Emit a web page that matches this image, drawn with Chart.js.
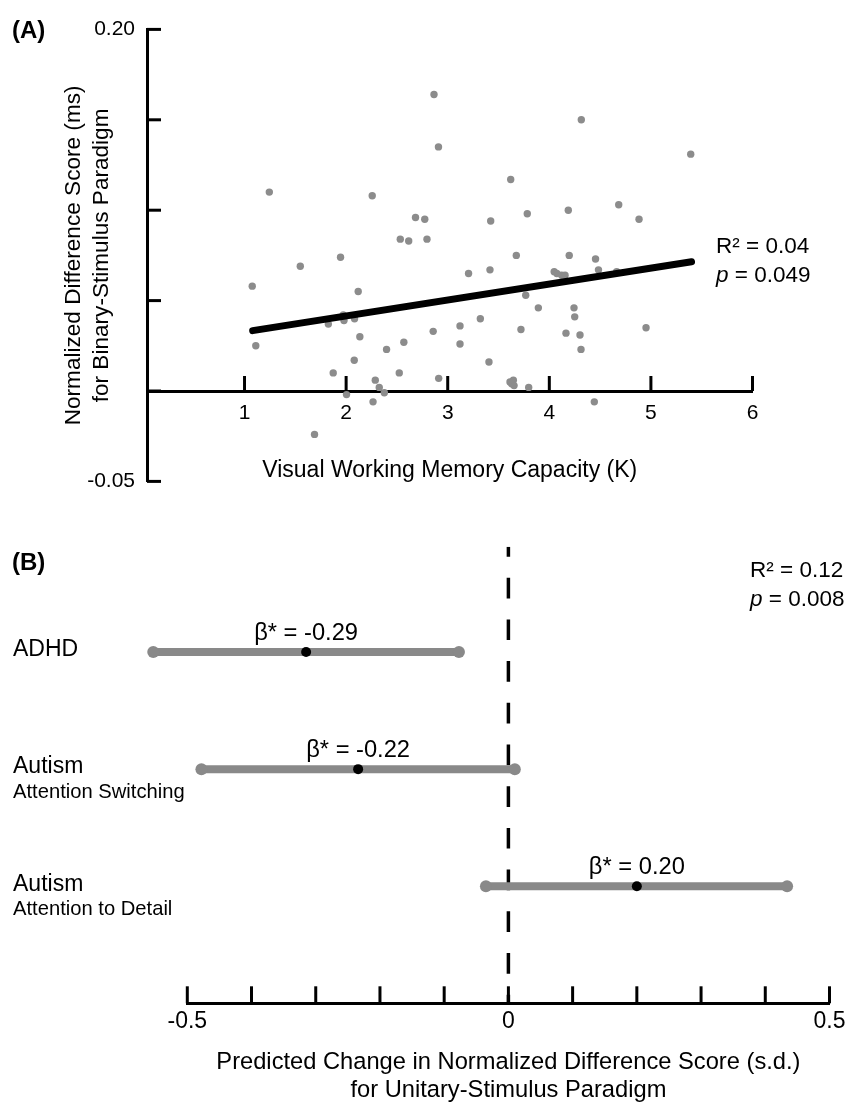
<!DOCTYPE html>
<html lang="en">
<head>
<meta charset="UTF-8">
<title>Visual working memory and difference scores</title>
<style>
  html, body { margin: 0; padding: 0; background: #fff; overflow: hidden; }
  canvas { position: absolute; left: 0; }
  #panelA { top: 0; }
  #panelB { top: 500px; }
</style>
</head>
<body>

<canvas id="panelA" width="846" height="510" role="img" aria-label="Scatter plot of normalized difference score against visual working memory capacity"></canvas>
<canvas id="panelB" width="856" height="604" role="img" aria-label="Standardized regression coefficients with confidence intervals"></canvas>

<script src="https://cdn.jsdelivr.net/npm/chart.js@4.4.1/dist/chart.umd.min.js"></script>
<script>
    // ---- panel A: scatter + regression line ----
    var capacityK = [2.865, 2.909, 4.315, 5.392, 1.244, 2.257, 3.620, 4.683, 2.683, 2.774,
                     3.423, 3.783, 4.187, 4.883, 2.533, 2.616, 2.796, 1.945, 3.675, 4.196,
                     4.455, 1.549, 3.205, 3.416, 4.048, 4.074, 4.122, 4.155, 4.484, 4.663,
                     1.076, 2.119, 3.768, 3.892, 4.243, 4.250, 3.321, 1.972, 1.979, 1.825,
                     2.083, 2.857, 3.121, 3.721, 4.164, 4.302, 4.952, 1.111, 2.135, 2.398,
                     2.568, 3.121, 4.312, 2.080, 3.406, 1.873, 2.523, 2.911, 2.287, 2.326,
                     2.376, 2.004, 2.265, 1.689, 3.613, 3.646, 3.630, 3.653, 3.797, 4.443];
    var diffScore = [0.164, 0.135, 0.150, 0.131, 0.110, 0.108, 0.117, 0.103, 0.096, 0.095,
                     0.094, 0.098, 0.100, 0.095, 0.084, 0.083, 0.084, 0.074, 0.075, 0.075,
                     0.073, 0.069, 0.065, 0.067, 0.066, 0.065, 0.064, 0.064, 0.067, 0.066,
                     0.058, 0.055, 0.053, 0.046, 0.046, 0.041, 0.040, 0.042, 0.039, 0.037,
                     0.040, 0.033, 0.036, 0.034, 0.032, 0.031, 0.035, 0.025, 0.030, 0.023,
                     0.027, 0.026, 0.023, 0.017, 0.016, 0.010, 0.010, 0.007, 0.006, 0.002,
                     -0.001, -0.002, -0.006, -0.024, 0.005, 0.006, 0.004, 0.003, 0.002, -0.006];
    var fitK = [1.08, 5.40];
    var fitScore = [0.0334, 0.0715];
    var xTicksA = [1, 2, 3, 4, 5, 6];
    var yTicksA = [-0.05, 0, 0.05, 0.10, 0.15, 0.20];
    var yLabelsA = ['-0.05', '', '', '', '', '0.20'];

    // ---- panel B: coefficients with intervals ----
    var groups = ['ADHD', 'Autism', 'Autism'];
    var subgroups = ['', 'Attention Switching', 'Attention to Detail'];
    var rows = [1, 2, 3];
    var ciLow = [-0.553, -0.478, -0.035];
    var ciHigh = [-0.077, 0.010, 0.434];
    var betaMid = [-0.315, -0.234, 0.200];
    var betaLabels = ['β* = -0.29', 'β* = -0.22', 'β* = 0.20'];
    var xTicksB = [-0.5, -0.4, -0.3, -0.2, -0.1, 0, 0.1, 0.2, 0.3, 0.4, 0.5];
    var xLabelsB = ['-0.5', '', '', '', '', '0', '', '', '', '', '0.5'];

    var FONT = '"Liberation Sans", Arial, Helvetica, sans-serif';
    var GREY = '#898989';
    Chart.defaults.font.family = FONT;
    Chart.defaults.color = '#000';
    Chart.defaults.animation = false;

    // tick marks point into the plot, so draw them ourselves from the scale ticks
    var innerTicks = {
        id: 'innerTicks',
        afterDraw: function(chart, args, opts) {
            var ctx = chart.ctx;
            ctx.save();
            ctx.strokeStyle = '#000';
            ctx.lineWidth = 3;
            Object.keys(opts.lengths || {}).forEach(function(id) {
                var s = chart.scales[id];
                var len = opts.lengths[id];
                s.ticks.forEach(function(t) {
                    var p = s.getPixelForValue(t.value);
                    ctx.beginPath();
                    if (s.isHorizontal()) {
                        var y0 = s.options.position === 'bottom' ? chart.chartArea.bottom : chart.scales.y.getPixelForValue(0);
                        ctx.moveTo(p, y0);
                        ctx.lineTo(p, y0 - len);
                    } else {
                        ctx.moveTo(chart.chartArea.left, p);
                        ctx.lineTo(chart.chartArea.left + len, p);
                    }
                    ctx.stroke();
                });
            });
            ctx.restore();
        }
    };

    // interval end caps (one end lies left of the axis, where chart.js skips points)
    var endCaps = {
        id: 'endCaps',
        afterDatasetsDraw: function(chart) {
            var ctx = chart.ctx;
            var xs = chart.scales.x, ys = chart.scales.y;
            ctx.save();
            ctx.fillStyle = GREY;
            for (var i = 0; i < rows.length; i++) {
                [ciLow[i], ciHigh[i]].forEach(function(v) {
                    ctx.beginPath();
                    ctx.arc(xs.getPixelForValue(v), ys.getPixelForValue(rows[i]), 6, 0, Math.PI * 2);
                    ctx.fill();
                });
            }
            ctx.fillStyle = '#000';
            for (var j = 0; j < rows.length; j++) {
                ctx.beginPath();
                ctx.arc(xs.getPixelForValue(betaMid[j]), ys.getPixelForValue(rows[j]), 5, 0, Math.PI * 2);
                ctx.fill();
            }
            ctx.restore();
        }
    };

    function statText(ctx, x, y, r2, p) {
        ctx.font = '22.5px ' + FONT;
        ctx.fillText(r2, x, y);
        ctx.font = 'italic 22.5px ' + FONT;
        ctx.fillText('p', x, y + 29);
        var w = ctx.measureText('p').width;
        ctx.font = '22.5px ' + FONT;
        ctx.fillText(' = ' + p, x + w, y + 29);
    }

    var notesA = {
        id: 'notesA',
        afterDraw: function(chart) {
            var ctx = chart.ctx;
            ctx.save();
            ctx.fillStyle = '#000';
            ctx.textBaseline = 'middle';
            ctx.textAlign = 'left';
            ctx.font = 'bold 24px ' + FONT;
            ctx.fillText('(A)', 12, 31);
            statText(ctx, 716, 247, 'R² = 0.04', '0.049');
            ctx.restore();
        }
    };

    var notesB = {
        id: 'notesB',
        afterDraw: function(chart) {
            var ctx = chart.ctx;
            var xs = chart.scales.x, ys = chart.scales.y;
            ctx.save();
            ctx.fillStyle = '#000';
            ctx.textBaseline = 'middle';
            ctx.textAlign = 'left';
            ctx.font = 'bold 24px ' + FONT;
            ctx.fillText('(B)', 12, 63);
            statText(ctx, 750, 71, 'R² = 0.12', '0.008');
            for (var i = 0; i < rows.length; i++) {
                var y = ys.getPixelForValue(rows[i]);
                ctx.textAlign = 'left';
                ctx.font = '23px ' + FONT;
                ctx.fillText(groups[i], 13, y - 2);
                if (subgroups[i]) {
                    ctx.font = '20.2px ' + FONT;
                    ctx.fillText(subgroups[i], 13, y + 23);
                }
                ctx.textAlign = 'center';
                ctx.font = '23.7px ' + FONT;
                ctx.fillText(betaLabels[i], xs.getPixelForValue(betaMid[i]), y - 19);
            }
            ctx.restore();
        }
    };

    var axisBorder = { display: true, color: '#000', width: 3 };

    // panel A
    new Chart(document.getElementById('panelA'), {
        type: 'scatter',
        data: {
            datasets: [
                {
                    type: 'line',
                    data: fitK.map(function(k, i) { return { x: k, y: fitScore[i] }; }),
                    borderColor: '#000',
                    borderWidth: 7,
                    borderCapStyle: 'round',
                    pointRadius: 0,
                    order: 0
                },
                {
                    data: capacityK.map(function(k, i) { return { x: k, y: diffScore[i] }; }),
                    backgroundColor: '#8c8c8c',
                    borderWidth: 0,
                    pointRadius: 3.7,
                    order: 1
                }
            ]
        },
        options: {
            responsive: false,
            layout: { padding: { left: 0, right: 93.5, top: 29.4, bottom: 28.6 } },
            plugins: {
                legend: { display: false },
                tooltip: { enabled: false },
                innerTicks: { lengths: { x: 15, y: 14 } }
            },
            scales: {
                x: {
                    type: 'linear',
                    min: 0.04,
                    max: 6,
                    position: { y: 0 },
                    afterBuildTicks: function(s) { s.ticks = xTicksA.map(function(v) { return { value: v }; }); },
                    afterFit: function(s) { s.height = 93; },
                    grid: { display: false, drawTicks: false },
                    border: axisBorder,
                    ticks: { font: { size: 21 }, padding: 10, autoSkip: false, maxRotation: 0 },
                    title: {
                        display: true,
                        text: 'Visual Working Memory Capacity (K)',
                        font: { size: 23, lineHeight: 1.2 },
                        padding: { top: 0, bottom: 0 }
                    }
                },
                y: {
                    type: 'linear',
                    min: -0.05,
                    max: 0.2,
                    position: 'left',
                    afterBuildTicks: function(s) { s.ticks = yTicksA.map(function(v) { return { value: v }; }); },
                    afterFit: function(s) { s.width = 147; },
                    grid: { display: false, drawTicks: false },
                    border: axisBorder,
                    ticks: {
                        font: { size: 21 },
                        padding: 12,
                        autoSkip: false,
                        callback: function(v, i) { return yLabelsA[i]; }
                    },
                    title: {
                        display: true,
                        text: ['Normalized Difference Score (ms)', 'for Binary-Stimulus Paradigm'],
                        font: { size: 22.6, lineHeight: 1.24 },
                        padding: { top: 60, bottom: 0 }
                    }
                }
            }
        },
        plugins: [innerTicks, notesA]
    });

    // panel B
    var datasetsB = [];
    for (var i = 0; i < rows.length; i++) {
        datasetsB.push({
            type: 'line',
            data: [{ x: ciLow[i], y: rows[i] }, { x: ciHigh[i], y: rows[i] }],
            borderColor: GREY,
            borderWidth: 8,
            pointRadius: 0,
            clip: false,
            order: 1
        });
    }
    datasetsB.push({
        type: 'line',
        data: [{ x: 0, y: 0.1 }, { x: 0, y: 4.0 }],
        borderColor: '#000',
        borderWidth: 3.5,
        borderDash: [20.7, 21],
        borderDashOffset: 10.7,
        pointRadius: 0,
        order: 2
    });

    new Chart(document.getElementById('panelB'), {
        type: 'scatter',
        data: { datasets: datasetsB },
        options: {
            responsive: false,
            layout: { padding: { left: 187.3, right: 26.5, top: 46.7, bottom: 0 } },
            plugins: {
                legend: { display: false },
                tooltip: { enabled: false },
                innerTicks: { lengths: { x: 17 } }
            },
            scales: {
                x: {
                    type: 'linear',
                    min: -0.5,
                    max: 0.5,
                    position: 'bottom',
                    afterBuildTicks: function(s) { s.ticks = xTicksB.map(function(v) { return { value: v }; }); },
                    afterFit: function(s) { s.height = 100.7; },
                    grid: { display: false, drawTicks: false },
                    border: axisBorder,
                    ticks: {
                        font: { size: 23 },
                        padding: 5,
                        autoSkip: false,
                        maxRotation: 0,
                        callback: function(v, i) { return xLabelsB[i]; }
                    },
                    title: {
                        display: true,
                        text: ['Predicted Change in Normalized Difference Score (s.d.)', 'for Unitary-Stimulus Paradigm'],
                        font: { size: 23.7, lineHeight: 1.16 },
                        padding: { top: 0, bottom: 0 }
                    }
                },
                y: {
                    type: 'linear',
                    display: false,
                    reverse: true,
                    min: 0.1,
                    max: 4.0
                }
            }
        },
        plugins: [innerTicks, endCaps, notesB]
    });
</script>

</body>
</html>
